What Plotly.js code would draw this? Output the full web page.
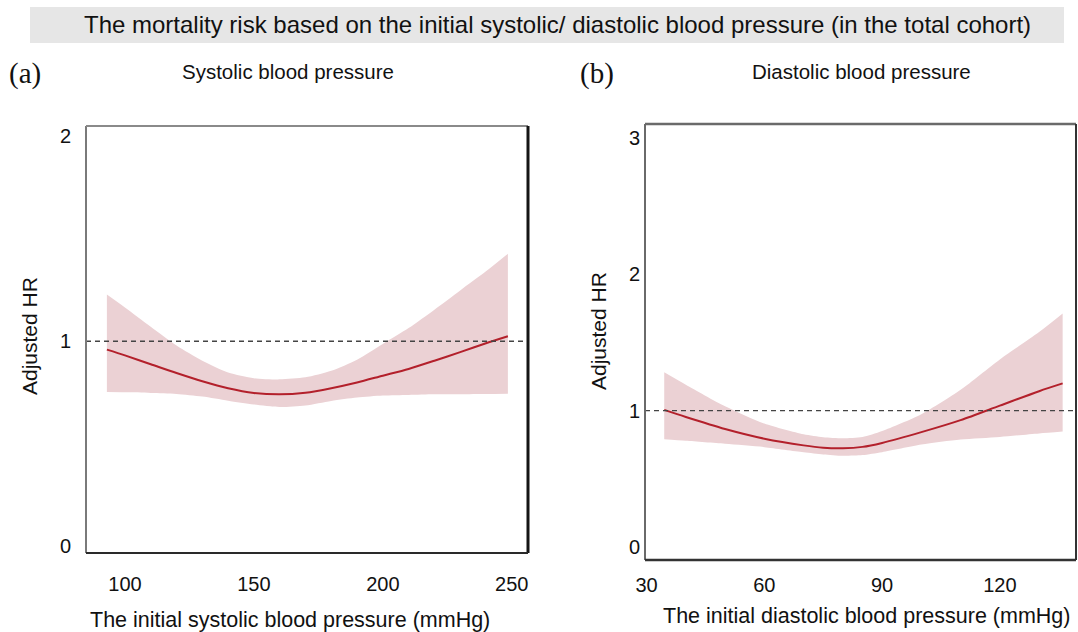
<!DOCTYPE html>
<html>
<head>
<meta charset="utf-8">
<script src="https://cdn.plot.ly/plotly-3.0.1.min.js"></script>
<style>html,body{margin:0;padding:0;background:#fff;}#chart{width:1078px;height:632px;}</style>
</head>
<body>
<div id="chart"></div>
<script>
// ---- Data ----
const sbpX     = [93, 100, 110, 120, 130, 140, 150, 160, 170, 180, 190, 200, 210, 220, 230, 240, 248.5];
const sbpHR    = [0.959, 0.931, 0.888, 0.845, 0.805, 0.771, 0.748, 0.741, 0.749, 0.771, 0.799, 0.832, 0.865, 0.905, 0.947, 0.99, 1.024];
const sbpUpper = [1.228, 1.165, 1.071, 0.979, 0.905, 0.848, 0.82, 0.814, 0.824, 0.856, 0.91, 0.987, 1.064, 1.154, 1.248, 1.341, 1.427];
const sbpLower = [0.752, 0.751, 0.748, 0.743, 0.73, 0.71, 0.691, 0.679, 0.687, 0.709, 0.725, 0.735, 0.738, 0.741, 0.742, 0.743, 0.744];

const dbpX     = [34.5, 40, 50, 60, 70, 75, 80, 85, 90, 100, 110, 120, 130, 136];
const dbpHR    = [1.005, 0.953, 0.865, 0.794, 0.745, 0.728, 0.724, 0.734, 0.763, 0.842, 0.93, 1.036, 1.142, 1.199];
const dbpUpper = [1.281, 1.19, 1.032, 0.905, 0.826, 0.805, 0.797, 0.806, 0.85, 0.973, 1.152, 1.375, 1.575, 1.711];
const dbpLower = [0.789, 0.778, 0.756, 0.732, 0.695, 0.679, 0.669, 0.674, 0.695, 0.751, 0.788, 0.807, 0.832, 0.846];

const sbpTicksX = [100, 150, 200, 250];
const sbpTicksY = [0, 1, 2];
const dbpTicksX = [30, 60, 90, 120];
const dbpTicksY = [0, 1, 2, 3];
const refHR = 1;

const mainTitle = 'The mortality risk based on the initial systolic/ diastolic blood pressure (in the total cohort)';
const panelLabels = ['(a)', '(b)'];
const panelTitles = ['Systolic blood pressure', 'Diastolic blood pressure'];
const xTitles = ['The initial systolic blood pressure (mmHg)', 'The initial diastolic blood pressure (mmHg)'];
const yTitle = 'Adjusted HR';

// ---- Styling ----
const W = 1078, H = 632;
const px = x => x / W;
const py = y => 1 - y / H;
const FONT = 'Liberation Sans, Arial, Helvetica, sans-serif';
const LINE = '#b3202b';
const BAND = '#ebd1d4';

function band(x, up, lo, xa, ya) {
  return [
    {x: x, y: lo, xaxis: xa, yaxis: ya, type: 'scatter', mode: 'lines',
     line: {width: 0, color: BAND, shape: 'spline', smoothing: 0.7}, hoverinfo: 'skip', showlegend: false},
    {x: x, y: up, xaxis: xa, yaxis: ya, type: 'scatter', mode: 'lines',
     fill: 'tonexty', fillcolor: BAND,
     line: {width: 0, color: BAND, shape: 'spline', smoothing: 0.7}, hoverinfo: 'skip', showlegend: false}
  ];
}
function curve(x, y, xa, ya) {
  return {x: x, y: y, xaxis: xa, yaxis: ya, type: 'scatter', mode: 'lines',
    line: {color: LINE, width: 2, shape: 'spline', smoothing: 0.8}, showlegend: false};
}

const data = [].concat(
  band(sbpX, sbpUpper, sbpLower, 'x', 'y'),
  [curve(sbpX, sbpHR, 'x', 'y')],
  band(dbpX, dbpUpper, dbpLower, 'x2', 'y2'),
  [curve(dbpX, dbpHR, 'x2', 'y2')]
);

const tickFont = {family: FONT, size: 20, color: '#111'};
const axBase = {showgrid: false, zeroline: false, showline: false, ticks: '', fixedrange: true, tickfont: tickFont};
const dashStyle = {color: '#444', width: 1.3, dash: '5px,4px'};

const layout = {
  width: W, height: H,
  margin: {l: 0, r: 0, t: 0, b: 0},
  paper_bgcolor: '#fff', plot_bgcolor: 'rgba(0,0,0,0)',
  showlegend: false,
  xaxis: Object.assign({}, axBase, {domain: [px(86), px(528)], range: [84.9, 256.3], tickvals: sbpTicksX, anchor: 'y', ticklabelstandoff: 17}),
  yaxis: Object.assign({}, axBase, {domain: [py(553), py(126)], range: [-0.033, 2.05], tickvals: sbpTicksY, anchor: 'x', ticklabelstandoff: 14}),
  xaxis2: Object.assign({}, axBase, {domain: [px(645), px(1076)], range: [29.6, 139.4], tickvals: dbpTicksX, anchor: 'y2', ticklabelstandoff: 11}),
  yaxis2: Object.assign({}, axBase, {domain: [py(560), py(124)], range: [-0.095, 3.1], tickvals: dbpTicksY, anchor: 'x2', ticklabelstandoff: 4}),
  shapes: [
    // title bar
    {type: 'rect', xref: 'paper', yref: 'paper', x0: px(30), x1: px(1064), y0: py(43), y1: py(7), fillcolor: '#e6e6e6', line: {width: 0}, layer: 'below'},
    // reference lines HR = 1
    {type: 'line', xref: 'x domain', yref: 'y', x0: 0, x1: 1, y0: refHR, y1: refHR, line: dashStyle},
    {type: 'line', xref: 'x2 domain', yref: 'y2', x0: 0, x1: 1, y0: refHR, y1: refHR, line: dashStyle},
    // frame (a)
    {type: 'line', xref: 'x domain', yref: 'y domain', x0: 0, x1: 0, y0: 0, y1: 1, line: {color: '#7a7a7a', width: 2}},
    {type: 'line', xref: 'x domain', yref: 'y domain', x0: 0, x1: 1, y0: 1, y1: 1, line: {color: '#8a8a8a', width: 2}},
    {type: 'line', xref: 'x domain', yref: 'y domain', x0: 1, x1: 1, y0: 0, y1: 1, line: {color: '#151515', width: 3}},
    {type: 'line', xref: 'x domain', yref: 'y domain', x0: 0, x1: 1, y0: 0, y1: 0, line: {color: '#2a2a2a', width: 2}},
    // frame (b)
    {type: 'line', xref: 'x2 domain', yref: 'y2 domain', x0: 0, x1: 0, y0: 0, y1: 1, line: {color: '#6a6a6a', width: 2}},
    {type: 'line', xref: 'x2 domain', yref: 'y2 domain', x0: 0, x1: 1, y0: 1, y1: 1, line: {color: '#6a6a6a', width: 2.5}},
    {type: 'line', xref: 'x2 domain', yref: 'y2 domain', x0: 1, x1: 1, y0: 0, y1: 1, line: {color: '#333', width: 2}},
    {type: 'line', xref: 'x2 domain', yref: 'y2 domain', x0: 0, x1: 1, y0: 0, y1: 0, line: {color: '#333', width: 2.5}}
  ],
  annotations: [
    {text: mainTitle, xref: 'paper', yref: 'paper', x: px(557), y: py(25), xanchor: 'center', yanchor: 'middle', showarrow: false, font: {family: FONT, size: 24, color: '#111'}},
    {text: panelLabels[0], xref: 'paper', yref: 'paper', x: px(25), y: py(74), xanchor: 'center', yanchor: 'middle', showarrow: false, font: {family: 'Liberation Serif, Times New Roman, serif', size: 29, color: '#111'}},
    {text: panelLabels[1], xref: 'paper', yref: 'paper', x: px(597), y: py(74), xanchor: 'center', yanchor: 'middle', showarrow: false, font: {family: 'Liberation Serif, Times New Roman, serif', size: 29, color: '#111'}},
    {text: panelTitles[0], xref: 'paper', yref: 'paper', x: px(288), y: py(72), xanchor: 'center', yanchor: 'middle', showarrow: false, font: {family: FONT, size: 20.5, color: '#111'}},
    {text: panelTitles[1], xref: 'paper', yref: 'paper', x: px(861), y: py(72), xanchor: 'center', yanchor: 'middle', showarrow: false, font: {family: FONT, size: 20.5, color: '#111'}},
    {text: xTitles[0], xref: 'paper', yref: 'paper', x: px(290), y: py(620), xanchor: 'center', yanchor: 'middle', showarrow: false, font: {family: FONT, size: 21.5, color: '#111'}},
    {text: xTitles[1], xref: 'paper', yref: 'paper', x: px(866), y: py(616), xanchor: 'center', yanchor: 'middle', showarrow: false, font: {family: FONT, size: 21.5, color: '#111'}},
    {text: yTitle, xref: 'paper', yref: 'paper', x: px(30), y: py(336), xanchor: 'center', yanchor: 'middle', textangle: -90, showarrow: false, font: {family: FONT, size: 21, color: '#111'}},
    {text: yTitle, xref: 'paper', yref: 'paper', x: px(598), y: py(331), xanchor: 'center', yanchor: 'middle', textangle: -90, showarrow: false, font: {family: FONT, size: 21, color: '#111'}}
  ]
};

Plotly.newPlot('chart', data, layout, {staticPlot: true, displayModeBar: false});
</script>
</body>
</html>
